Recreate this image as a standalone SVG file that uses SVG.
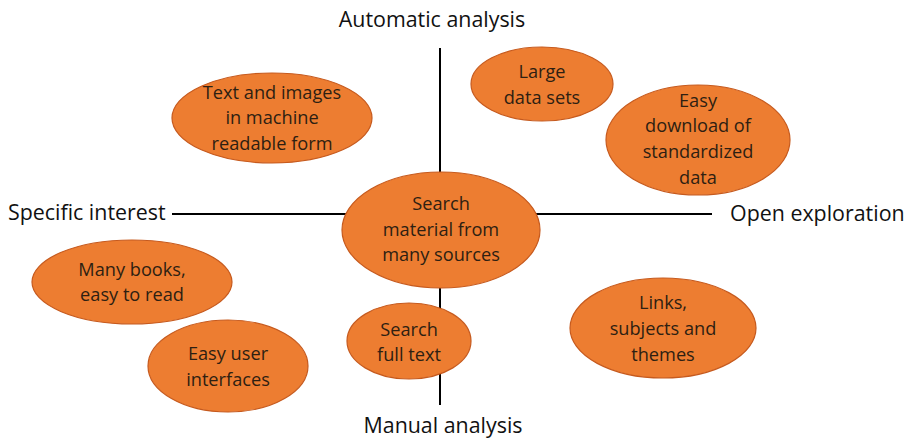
<svg xmlns="http://www.w3.org/2000/svg" width="908" height="439" viewBox="0 0 908 439">
<style>
.n ellipse{fill:#ED7D31;stroke:#C65A1E;stroke-width:1.2}
.n text{font-family:"Open Sans","Liberation Sans",sans-serif;font-size:18.2px;fill:#2E1F12;text-anchor:middle}
.ax{font-family:"Open Sans","Liberation Sans",sans-serif;font-size:21.4px;fill:#111}
.c line{stroke:#000;stroke-width:2}
</style>
<rect width="908" height="439" fill="#fff"/>
<g id="connectors" class="c">
<line x1="440" y1="48" x2="440" y2="405"/>
<line x1="172" y1="214" x2="712" y2="214"/>
</g>
<text class="ax" x="432" y="27" text-anchor="middle">Automatic analysis</text>
<text class="ax" x="8" y="220">Specific interest</text>
<text class="ax" x="730" y="221">Open exploration</text>
<text class="ax" x="443" y="433" text-anchor="middle">Manual analysis</text>
<g id="n1" class="n"><ellipse cx="272" cy="118" rx="100" ry="45"/>
<text x="272" y="99">Text and images</text><text x="272" y="124">in machine</text><text x="272" y="150">readable form</text></g>
<g id="n2" class="n"><ellipse cx="542" cy="84" rx="71" ry="37"/>
<text x="542" y="78">Large</text><text x="542" y="104">data sets</text></g>
<g id="n3" class="n"><ellipse cx="698" cy="140" rx="92" ry="55"/>
<text x="698" y="107">Easy</text><text x="698" y="132">download of</text><text x="698" y="158">standardized</text><text x="698" y="184">data</text></g>
<g id="n4" class="n"><ellipse cx="441" cy="230" rx="99" ry="58"/>
<text x="441" y="210">Search</text><text x="441" y="236">material from</text><text x="441" y="261">many sources</text></g>
<g id="n5" class="n"><ellipse cx="132" cy="282" rx="100" ry="42"/>
<text x="132" y="276">Many books,</text><text x="132" y="301">easy to read</text></g>
<g id="n6" class="n"><ellipse cx="228" cy="366" rx="80" ry="46"/>
<text x="228" y="360">Easy user</text><text x="228" y="386">interfaces</text></g>
<g id="n7" class="n"><ellipse cx="409" cy="341" rx="62" ry="38"/>
<text x="409" y="336">Search</text><text x="409" y="361">full text</text></g>
<g id="n8" class="n"><ellipse cx="663" cy="328" rx="93" ry="50"/>
<text x="663" y="309">Links,</text><text x="663" y="335">subjects and</text><text x="663" y="361">themes</text></g>
</svg>
